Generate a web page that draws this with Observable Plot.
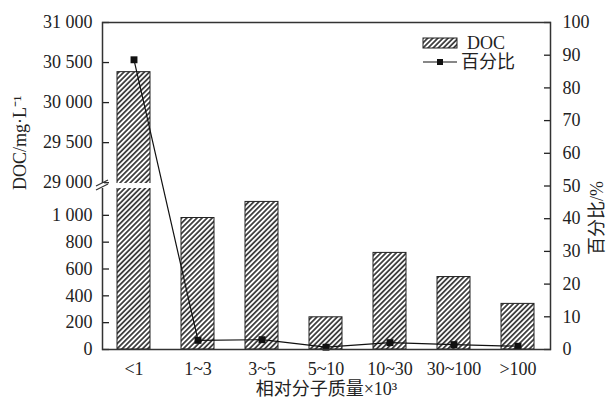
<!DOCTYPE html>
<html>
<head>
<meta charset="utf-8">
<script src="https://cdn.jsdelivr.net/npm/d3@7"></script>
<script src="https://cdn.jsdelivr.net/npm/@observablehq/plot@0.6"></script>
<style>
  html, body { margin: 0; padding: 0; background: white; }
  #chart { position: relative; width: 609px; height: 403px; }
  #chart svg { position: absolute; left: 0; top: 0; }
</style>
</head>
<body>
<div id="chart"></div>
<script>
const categories = ["<1", "1~3", "3~5", "5~10", "10~30", "30~100", ">100"];
const docValues = [30380, 980, 1100, 240, 720, 540, 340];
const percentValues = [88.6, 2.8, 3.0, 0.7, 2.1, 1.5, 1.0];
const upperTicks = [29000, 29500, 30000, 30500, 31000];
const lowerTicks = [0, 200, 400, 600, 800, 1000];
const percentTicks = [0, 10, 20, 30, 40, 50, 60, 70, 80, 90, 100];
const yLabel = "DOC/mg·L⁻¹";
const y2Label = "百分比/%";
const xLabel = "相对分子质量×10³";
const legendLabels = ["DOC", "百分比"];

const data = categories.map((c, i) => ({cat: c, doc: docValues[i], pct: percentValues[i]}));
const fmt = d => d3.format(",")(d).replace(/,/g, " ");

const W = 609, H = 403, ML = 102, MR = 59, TOP = 22, BOTTOM = 349;
const style = {
  fontFamily: "'Liberation Serif', 'Times New Roman', 'Noto Sans CJK SC', serif",
  fontSize: "18px",
  color: "#222",
  background: "transparent",
  overflow: "visible"
};
const xOpts = {type: "band", domain: categories, paddingInner: 0.48, paddingOuter: 0.24, axis: null};
const common = {width: W, height: H, marginLeft: ML, marginRight: MR, style};

const chart = document.getElementById("chart");

// Upper broken section
const upper = Plot.plot({
  ...common,
  marginTop: TOP, marginBottom: H - 183,
  x: xOpts,
  y: {domain: [28990, 31000]},
  marks: [
    Plot.barY(data, {x: "cat", y: "doc", fill: "url(#hatch)", stroke: "#222", strokeWidth: 1, clip: true}),
    Plot.axisY({ticks: upperTicks, tickFormat: fmt, tickSize: -7, tickPadding: 17, strokeWidth: 1.3, label: null})
  ]
});
// Lower section
const lower = Plot.plot({
  ...common,
  marginTop: 188, marginBottom: H - BOTTOM,
  x: xOpts,
  y: {domain: [0, 1200]},
  marks: [
    Plot.barY(data, {x: "cat", y: "doc", fill: "url(#hatch)", stroke: "#222", strokeWidth: 1, clip: true}),
    Plot.axisY({ticks: lowerTicks, tickFormat: fmt, tickSize: -7, tickPadding: 17, strokeWidth: 1.3, label: null})
  ]
});
// Percent overlay
const pct = Plot.plot({
  ...common,
  marginTop: TOP, marginBottom: H - BOTTOM,
  x: {...xOpts},
  y: {domain: [0, 100]},
  marks: [
    Plot.line(data, {x: "cat", y: "pct", stroke: "#111", strokeWidth: 1.2}),
    Plot.dot(data, {x: "cat", y: "pct", symbol: "square", r: 3.9, fill: "#111", stroke: "none"}),
    Plot.axisY({anchor: "right", ticks: percentTicks, tickSize: -7, tickPadding: 19, strokeWidth: 1.3, label: null}),
    Plot.axisX({tickSize: 0, tickPadding: 13, label: null}),
    Plot.frame({stroke: "#333", strokeWidth: 1.5}),
    Plot.text([xLabel], {frameAnchor: "bottom", dy: 45, fontSize: 18, style: "letter-spacing: 1.5px"}),
    Plot.text([yLabel], {frameAnchor: "left", rotate: -90, dx: -82, dy: 4, fontSize: 18}),
    Plot.text([y2Label], {frameAnchor: "right", rotate: -90, dx: 47, dy: -5, fontSize: 18})
  ]
});

chart.appendChild(upper);
chart.appendChild(lower);
chart.appendChild(pct);

// hatch pattern
const defs = d3.select(upper).append("defs");
const pat = defs.append("pattern").attr("id", "hatch")
  .attr("patternUnits", "userSpaceOnUse").attr("width", 3.6).attr("height", 3.6)
  .attr("patternTransform", "rotate(45)");
pat.append("rect").attr("width", 3.6).attr("height", 3.6).attr("fill", "white");
pat.append("line").attr("x1", 1.8).attr("y1", 0).attr("x2", 1.8).attr("y2", 3.6)
  .attr("stroke", "#1a1a1a").attr("stroke-width", 1.5);

// axis break on left axis + legend
const s = d3.select(pct);
s.append("rect").attr("x", ML - 2).attr("y", 183).attr("width", 4).attr("height", 5).attr("fill", "white");
s.append("line").attr("x1", 96).attr("y1", 186).attr("x2", 108).attr("y2", 180).attr("stroke", "#333").attr("stroke-width", 1.2);
s.append("line").attr("x1", 96).attr("y1", 190).attr("x2", 108).attr("y2", 184).attr("stroke", "#333").attr("stroke-width", 1.2);

const lg = s.append("g").attr("font-family", style.fontFamily).attr("font-size", 18)
  .attr("fill", "#222").attr("text-anchor", "start");
lg.append("rect").attr("x", 423).attr("y", 38).attr("width", 34).attr("height", 10)
  .attr("fill", "url(#hatch)").attr("stroke", "#222").attr("stroke-width", 1);
lg.append("text").attr("x", 467).attr("y", 43).attr("dy", "0.35em").text(legendLabels[0]);
lg.append("line").attr("x1", 423).attr("x2", 457).attr("y1", 62).attr("y2", 62).attr("stroke", "#111").attr("stroke-width", 1.2);
lg.append("rect").attr("x", 437).attr("y", 59).attr("width", 6).attr("height", 6).attr("fill", "#111");
lg.append("text").attr("x", 461).attr("y", 62).attr("dy", "0.35em").text(legendLabels[1]);
</script>
</body>
</html>
